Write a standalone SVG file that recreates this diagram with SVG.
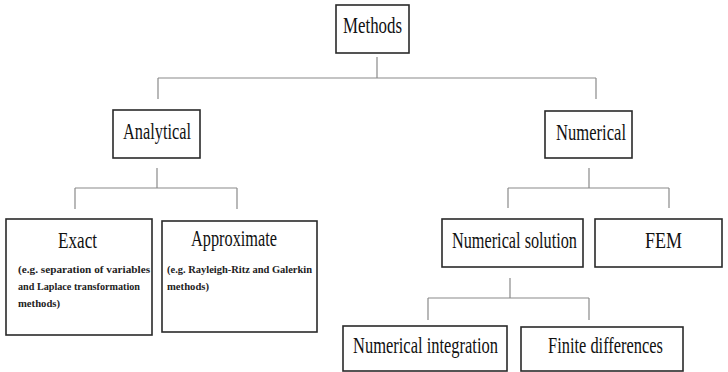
<svg xmlns="http://www.w3.org/2000/svg" width="728" height="372" viewBox="0 0 728 372">
  <style>
    .box { fill: #ffffff; stroke: #2a2a2a; stroke-width: 1.6; }
    .lbl { font-size: 23px; fill: #111; text-anchor: middle; }
    .small { font-size: 11px; font-weight: bold; fill: #222; }
    .conn { fill: none; stroke: #8a8a8a; stroke-width: 1.2; }
  </style>
  <rect width="728" height="372" fill="#ffffff"/>

  <!-- tree connectors -->
  <g id="connectors" class="conn">
    <path d="M377,57 V78 M158,78 H596 M158,78 V99 M596,78 V99"/>
    <path d="M157,168 V188 M75,188 H237 M75,188 V209 M237,188 V209"/>
    <path d="M589,168 V188 M508,188 H669 M508,188 V208 M669,188 V208"/>
    <path d="M510,278 V298 M428,298 H589 M428,298 V320 M589,298 V320"/>
  </g>

  <g font-family="Liberation Serif, Times New Roman, Tinos, DejaVu Serif, serif">
  <g id="methods">
    <rect class="box" x="336" y="5" width="73" height="48"/>
    <text class="lbl" x="372.5" y="33" textLength="59" lengthAdjust="spacingAndGlyphs">Methods</text>
  </g>

  <g id="analytical">
    <rect class="box" x="113" y="110" width="87" height="48"/>
    <text class="lbl" x="157" y="139" textLength="68" lengthAdjust="spacingAndGlyphs">Analytical</text>
  </g>

  <g id="numerical">
    <rect class="box" x="545" y="111" width="87" height="47"/>
    <text class="lbl" x="591" y="140" textLength="70" lengthAdjust="spacingAndGlyphs">Numerical</text>
  </g>

  <g id="exact">
    <rect class="box" x="6" y="219" width="146" height="116"/>
    <text class="lbl" x="77.5" y="248" textLength="39" lengthAdjust="spacingAndGlyphs">Exact</text>
    <text class="small" x="18" y="273" textLength="132" lengthAdjust="spacingAndGlyphs">(e.g. separation of variables</text>
    <text class="small" x="18" y="290" textLength="122" lengthAdjust="spacingAndGlyphs">and Laplace transformation</text>
    <text class="small" x="18" y="307" textLength="42" lengthAdjust="spacingAndGlyphs">methods)</text>
  </g>

  <g id="approximate">
    <rect class="box" x="162" y="221" width="155" height="111"/>
    <text class="lbl" x="234" y="246" textLength="86" lengthAdjust="spacingAndGlyphs">Approximate</text>
    <text class="small" x="167" y="273" textLength="145" lengthAdjust="spacingAndGlyphs">(e.g. Rayleigh-Ritz and Galerkin</text>
    <text class="small" x="167" y="290" textLength="42" lengthAdjust="spacingAndGlyphs">methods)</text>
  </g>

  <g id="numerical-solution">
    <rect class="box" x="442" y="219" width="141" height="48"/>
    <text class="lbl" x="514.5" y="248" textLength="125" lengthAdjust="spacingAndGlyphs">Numerical solution</text>
  </g>

  <g id="fem">
    <rect class="box" x="595" y="219" width="127" height="48"/>
    <text class="lbl" x="663.5" y="248" textLength="37" lengthAdjust="spacingAndGlyphs">FEM</text>
  </g>

  <g id="numerical-integration">
    <rect class="box" x="343" y="326" width="164" height="45"/>
    <text class="lbl" x="425.5" y="353" textLength="145" lengthAdjust="spacingAndGlyphs">Numerical integration</text>
  </g>

  <g id="finite-differences">
    <rect class="box" x="521" y="327" width="162" height="44"/>
    <text class="lbl" x="605.5" y="353" textLength="115" lengthAdjust="spacingAndGlyphs">Finite differences</text>
  </g>
  </g>
</svg>
